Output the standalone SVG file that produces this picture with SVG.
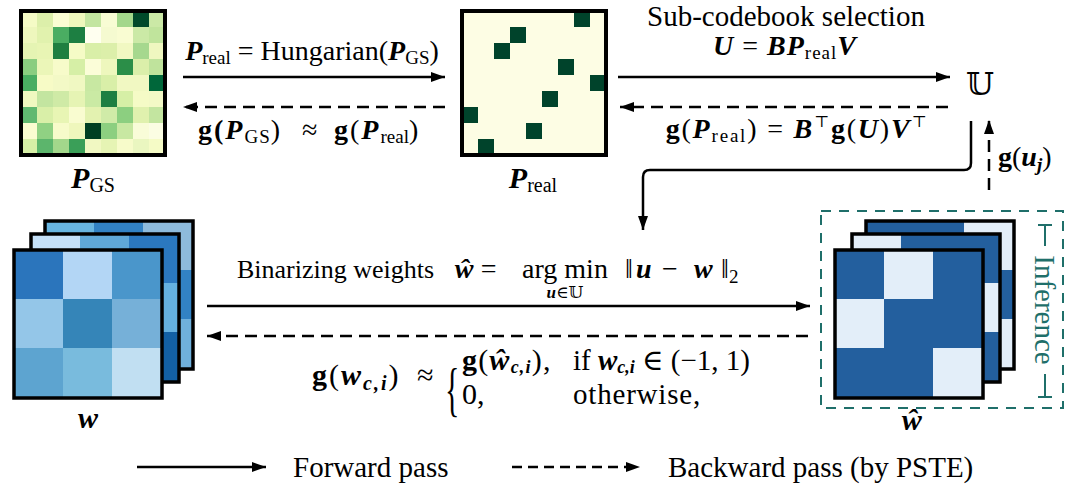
<svg xmlns="http://www.w3.org/2000/svg" width="1066" height="489" viewBox="0 0 1066 489">
<defs>
<marker id="ah" viewBox="0 0 14 10" refX="14" refY="5" markerWidth="14" markerHeight="10" markerUnits="userSpaceOnUse" orient="auto"><path d="M0,0 L14,5 L0,10 z" fill="#000"/></marker>
</defs>
<style>
text{font-family:"Liberation Serif","DejaVu Serif","Noto Serif","Times New Roman",serif;fill:#000}
.bi{font-weight:bold;font-style:italic}
.b{font-weight:bold}
.bb{font-family:"DejaVu Serif","DejaVu Sans",serif;font-weight:normal;font-style:normal}
.sym{font-family:"DejaVu Serif","DejaVu Sans",sans-serif;font-weight:normal;font-style:normal}
.frame{fill:none;stroke:#000;stroke-width:4}
.fr3{fill:none;stroke:#000;stroke-width:3.5}
.solid{fill:none;stroke:#000;stroke-width:2.5}
.dash{fill:none;stroke:#000;stroke-width:2.5;stroke-dasharray:12 7}
.inf{fill:none;stroke:#1f6f6a;stroke-width:2;stroke-dasharray:10 8}
.teal{stroke:#1f6f6a;stroke-width:2}
.D{fill:#235f9e}.L{fill:#e3eef9}
</style>

<g id="node-PGS">
<g transform="translate(21,11)">
<rect x="0" y="0" width="16.5" height="16.5" fill="#f5fbc6"/><rect x="16" y="0" width="16.5" height="16.5" fill="#dcefaa"/><rect x="32" y="0" width="16.5" height="16.5" fill="#fbfdd3"/><rect x="48" y="0" width="16.5" height="16.5" fill="#eef7bc"/><rect x="64" y="0" width="16.5" height="16.5" fill="#c3e5a0"/><rect x="80" y="0" width="16.5" height="16.5" fill="#f8fcd4"/><rect x="96" y="0" width="16.5" height="16.5" fill="#a3d78b"/><rect x="112" y="0" width="16.5" height="16.5" fill="#00492a"/><rect x="128" y="0" width="16" height="16.5" fill="#cbe9a6"/>
<rect x="0" y="16" width="16.5" height="16.5" fill="#eef7bd"/><rect x="16" y="16" width="16.5" height="16.5" fill="#e1f2ae"/><rect x="32" y="16" width="16.5" height="16.5" fill="#4aad62"/><rect x="48" y="16" width="16.5" height="16.5" fill="#1d7f42"/><rect x="64" y="16" width="16.5" height="16.5" fill="#fffff0"/><rect x="80" y="16" width="16.5" height="16.5" fill="#f5fad0"/><rect x="96" y="16" width="16.5" height="16.5" fill="#f9fcd2"/><rect x="112" y="16" width="16.5" height="16.5" fill="#cbe9a6"/><rect x="128" y="16" width="16" height="16.5" fill="#c0e49c"/>
<rect x="0" y="32" width="16.5" height="16.5" fill="#e5f4b3"/><rect x="16" y="32" width="16.5" height="16.5" fill="#e8f5b4"/><rect x="32" y="32" width="16.5" height="16.5" fill="#1f7f40"/><rect x="48" y="32" width="16.5" height="16.5" fill="#f5fbc6"/><rect x="64" y="32" width="16.5" height="16.5" fill="#d9efa8"/><rect x="80" y="32" width="16.5" height="16.5" fill="#dcefaa"/><rect x="96" y="32" width="16.5" height="16.5" fill="#f1f8c2"/><rect x="112" y="32" width="16.5" height="16.5" fill="#a6d88e"/><rect x="128" y="32" width="16" height="16.5" fill="#eff7c0"/>
<rect x="0" y="48" width="16.5" height="16.5" fill="#8acd80"/><rect x="16" y="48" width="16.5" height="16.5" fill="#ebf6b8"/><rect x="32" y="48" width="16.5" height="16.5" fill="#f7fbca"/><rect x="48" y="48" width="16.5" height="16.5" fill="#d6efa6"/><rect x="64" y="48" width="16.5" height="16.5" fill="#fbfdd8"/><rect x="80" y="48" width="16.5" height="16.5" fill="#eef7bd"/><rect x="96" y="48" width="16.5" height="16.5" fill="#2b8e48"/><rect x="112" y="48" width="16.5" height="16.5" fill="#dbefaa"/><rect x="128" y="48" width="16" height="16.5" fill="#bfe39c"/>
<rect x="0" y="64" width="16.5" height="16.5" fill="#4aad62"/><rect x="16" y="64" width="16.5" height="16.5" fill="#f7fbc6"/><rect x="32" y="64" width="16.5" height="16.5" fill="#f3f9c6"/><rect x="48" y="64" width="16.5" height="16.5" fill="#f0f8c2"/><rect x="64" y="64" width="16.5" height="16.5" fill="#c8e8a2"/><rect x="80" y="64" width="16.5" height="16.5" fill="#d9efa8"/><rect x="96" y="64" width="16.5" height="16.5" fill="#f1f8c2"/><rect x="112" y="64" width="16.5" height="16.5" fill="#f1f8c2"/><rect x="128" y="64" width="16" height="16.5" fill="#00673a"/>
<rect x="0" y="80" width="16.5" height="16.5" fill="#f0f8c0"/><rect x="16" y="80" width="16.5" height="16.5" fill="#c3e5a0"/><rect x="32" y="80" width="16.5" height="16.5" fill="#cfeaa6"/><rect x="48" y="80" width="16.5" height="16.5" fill="#e6f4b4"/><rect x="64" y="80" width="16.5" height="16.5" fill="#caeaa4"/><rect x="80" y="80" width="16.5" height="16.5" fill="#1d7f42"/><rect x="96" y="80" width="16.5" height="16.5" fill="#d6efa6"/><rect x="112" y="80" width="16.5" height="16.5" fill="#f5fbc6"/><rect x="128" y="80" width="16" height="16.5" fill="#f3f9c6"/>
<rect x="0" y="96" width="16.5" height="16.5" fill="#60b870"/><rect x="16" y="96" width="16.5" height="16.5" fill="#d9efa8"/><rect x="32" y="96" width="16.5" height="16.5" fill="#e8f5b4"/><rect x="48" y="96" width="16.5" height="16.5" fill="#f9fcd0"/><rect x="64" y="96" width="16.5" height="16.5" fill="#e3f2b0"/><rect x="80" y="96" width="16.5" height="16.5" fill="#d0eba8"/><rect x="96" y="96" width="16.5" height="16.5" fill="#8ccf80"/><rect x="112" y="96" width="16.5" height="16.5" fill="#e0f1ae"/><rect x="128" y="96" width="16" height="16.5" fill="#c3e5a0"/>
<rect x="0" y="112" width="16.5" height="16.5" fill="#fafcd0"/><rect x="16" y="112" width="16.5" height="16.5" fill="#90d183"/><rect x="32" y="112" width="16.5" height="16.5" fill="#f7fbca"/><rect x="48" y="112" width="16.5" height="16.5" fill="#eff7bc"/><rect x="64" y="112" width="16.5" height="16.5" fill="#003f22"/><rect x="80" y="112" width="16.5" height="16.5" fill="#8ccf80"/><rect x="96" y="112" width="16.5" height="16.5" fill="#c8e8a2"/><rect x="112" y="112" width="16.5" height="16.5" fill="#f9fcd8"/><rect x="128" y="112" width="16" height="16.5" fill="#fbfde3"/>
<rect x="0" y="128" width="16.5" height="16" fill="#d6efa6"/><rect x="16" y="128" width="16.5" height="16" fill="#5cb56c"/><rect x="32" y="128" width="16.5" height="16" fill="#a3d78b"/><rect x="48" y="128" width="16.5" height="16" fill="#3a9f58"/><rect x="64" y="128" width="16.5" height="16" fill="#f1f8c2"/><rect x="80" y="128" width="16.5" height="16" fill="#e6f4b4"/><rect x="96" y="128" width="16.5" height="16" fill="#f7fbca"/><rect x="112" y="128" width="16.5" height="16" fill="#eaf6c0"/><rect x="128" y="128" width="16" height="16" fill="#f5fbc6"/>
<rect class="frame" x="0" y="0" width="144" height="144"/>
</g>
<text x="93" y="188" text-anchor="middle" font-size="30"><tspan class="bi">P</tspan><tspan font-size="20" dy="4">GS</tspan></text>
</g>

<g id="node-Preal">
<g transform="translate(462,11)">
<rect x="0" y="0" width="144" height="144" fill="#fdfde4"/>
<g fill="#00432b">
<rect x="112" y="0" width="16" height="16"/><rect x="48" y="16" width="16" height="16"/><rect x="32" y="32" width="16" height="16"/><rect x="96" y="48" width="16" height="16"/><rect x="128" y="64" width="16" height="16"/><rect x="80" y="80" width="16" height="16"/><rect x="0" y="96" width="16" height="16"/><rect x="64" y="112" width="16" height="16"/><rect x="16" y="128" width="16" height="16"/>
</g>
<rect class="frame" x="0" y="0" width="144" height="144"/>
</g>
<text x="533" y="188" text-anchor="middle" font-size="30"><tspan class="bi">P</tspan><tspan font-size="20" dy="4">real</tspan></text>
</g>

<g id="node-U">
<text class="bb" x="966" y="95" font-size="32">𝕌</text>
</g>

<g id="node-w">
<g transform="translate(45,221)">
<rect x="0" y="0" width="50" height="50" fill="#68b5e0"/><rect x="49" y="0" width="50" height="50" fill="#3282c4"/><rect x="98" y="0" width="50" height="50" fill="#8ebbdc"/>
<rect x="0" y="49" width="50" height="50" fill="#4a96cb"/><rect x="49" y="49" width="50" height="50" fill="#9ecae1"/><rect x="98" y="49" width="50" height="50" fill="#3282c4"/>
<rect x="0" y="98" width="50" height="50" fill="#2171b5"/><rect x="49" y="98" width="50" height="50" fill="#6baed6"/><rect x="98" y="98" width="50" height="50" fill="#6fb0dc"/>
<rect class="fr3" x="0" y="0" width="148" height="148"/>
</g>
<g transform="translate(31,234)">
<rect x="0" y="0" width="50" height="50" fill="#c4e0f8"/><rect x="49" y="0" width="50" height="50" fill="#5fa8d8"/><rect x="98" y="0" width="50" height="50" fill="#2b78bf"/>
<rect x="0" y="49" width="50" height="50" fill="#6baed6"/><rect x="49" y="49" width="50" height="50" fill="#3182bd"/><rect x="98" y="49" width="50" height="50" fill="#65b1e0"/>
<rect x="0" y="98" width="50" height="50" fill="#9ecae1"/><rect x="49" y="98" width="50" height="50" fill="#4292c6"/><rect x="98" y="98" width="50" height="50" fill="#1360a4"/>
<rect class="fr3" x="0" y="0" width="148" height="148"/>
</g>
<g transform="translate(14,250)">
<rect x="0" y="0" width="50" height="50" fill="#2b75bc"/><rect x="49" y="0" width="50" height="50" fill="#b3d6f5"/><rect x="98" y="0" width="50" height="50" fill="#4a96cb"/>
<rect x="0" y="49" width="50" height="50" fill="#94c6e8"/><rect x="49" y="49" width="50" height="50" fill="#3585b8"/><rect x="98" y="49" width="50" height="50" fill="#76b0d8"/>
<rect x="0" y="98" width="50" height="50" fill="#5da4d0"/><rect x="49" y="98" width="50" height="50" fill="#79bbdd"/><rect x="98" y="98" width="50" height="50" fill="#c1dff2"/>
<rect class="fr3" x="0" y="0" width="148" height="148"/>
</g>
<text class="bi" x="88" y="428" text-anchor="middle" font-size="30">w</text>
</g>

<g id="node-what">
<rect class="inf" x="821" y="211" width="242" height="197"/>
<g transform="translate(866,221)">
<rect class="D" x="0" y="0" width="50" height="50"/><rect class="D" x="49" y="0" width="50" height="50"/><rect class="L" x="98" y="0" width="50" height="50"/>
<rect class="L" x="0" y="49" width="50" height="50"/><rect class="D" x="49" y="49" width="50" height="50"/><rect class="D" x="98" y="49" width="50" height="50"/>
<rect class="D" x="0" y="98" width="50" height="50"/><rect class="L" x="49" y="98" width="50" height="50"/><rect class="L" x="98" y="98" width="50" height="50"/>
<rect class="fr3" x="0" y="0" width="148" height="148"/>
</g>
<g transform="translate(852,234)">
<rect class="L" x="0" y="0" width="50" height="50"/><rect class="D" x="49" y="0" width="50" height="50"/><rect class="D" x="98" y="0" width="50" height="50"/>
<rect class="D" x="0" y="49" width="50" height="50"/><rect class="D" x="49" y="49" width="50" height="50"/><rect class="L" x="98" y="49" width="50" height="50"/>
<rect class="L" x="0" y="98" width="50" height="50"/><rect class="D" x="49" y="98" width="50" height="50"/><rect class="D" x="98" y="98" width="50" height="50"/>
<rect class="fr3" x="0" y="0" width="148" height="148"/>
</g>
<g transform="translate(835,250)">
<rect class="D" x="0" y="0" width="50" height="50"/><rect class="L" x="49" y="0" width="50" height="50"/><rect class="D" x="98" y="0" width="50" height="50"/>
<rect class="L" x="0" y="49" width="50" height="50"/><rect class="D" x="49" y="49" width="50" height="50"/><rect class="D" x="98" y="49" width="50" height="50"/>
<rect class="D" x="0" y="98" width="50" height="50"/><rect class="D" x="49" y="98" width="50" height="50"/><rect class="L" x="98" y="98" width="50" height="50"/>
<rect class="fr3" x="0" y="0" width="148" height="148"/>
</g>
<text class="bi" x="912" y="430" text-anchor="middle" font-size="30">ŵ</text>
<line class="teal" x1="1038" y1="225" x2="1052" y2="225"/>
<line class="teal" x1="1045" y1="225" x2="1045" y2="246"/>
<line class="teal" x1="1045" y1="374" x2="1045" y2="397"/>
<line class="teal" x1="1038" y1="397" x2="1052" y2="397"/>
<text transform="translate(1045,310) rotate(90)" text-anchor="middle" dy="0.33em" font-size="29" style="fill:#1f6f6a">Inference</text>
</g>

<g id="connectors">
<line class="solid" x1="183" y1="77" x2="445" y2="77" marker-end="url(#ah)"/>
<line class="dash" x1="445" y1="107" x2="183" y2="107" marker-end="url(#ah)"/>
<line class="solid" x1="618" y1="77" x2="950" y2="77" marker-end="url(#ah)"/>
<line class="dash" x1="948" y1="107" x2="620" y2="107" marker-end="url(#ah)"/>
<path class="solid" d="M971,121 V163 Q971,170 964,170 H650 Q643,170 643,177 V230" marker-end="url(#ah)"/>
<path class="dash" d="M989,190 V120" marker-end="url(#ah)"/>
<line class="solid" x1="207" y1="306" x2="810" y2="306" marker-end="url(#ah)"/>
<line class="dash" x1="808" y1="336" x2="207" y2="336" marker-end="url(#ah)"/>
</g>

<g id="labels">
<text x="312" y="60" text-anchor="middle" font-size="28"><tspan class="bi">P</tspan><tspan font-size="19" dy="4">real</tspan><tspan dy="-4"> = Hungarian(</tspan><tspan class="bi">P</tspan><tspan font-size="19" dy="4">GS</tspan><tspan dy="-4">)</tspan></text>
<text x="198" y="139" font-size="28"><tspan class="b" letter-spacing="2">g(</tspan><tspan class="bi" letter-spacing="2">P</tspan><tspan font-size="19" dy="4" letter-spacing="1">GS</tspan><tspan dy="-4">)</tspan></text>
<text x="302" y="139" font-size="28">≈</text>
<text x="334" y="139" font-size="28"><tspan class="b" letter-spacing="2">g</tspan><tspan letter-spacing="2">(</tspan><tspan class="bi" letter-spacing="2">P</tspan><tspan font-size="19" dy="4">real</tspan><tspan dy="-4">)</tspan></text>
<text x="786" y="26" text-anchor="middle" font-size="29">Sub-codebook selection</text>
<text x="785" y="55" text-anchor="middle" font-size="28" letter-spacing="1"><tspan class="bi">U</tspan> = <tspan class="bi">BP</tspan><tspan font-size="19" dy="4">real</tspan><tspan class="bi" dy="-4">V</tspan></text>
<text x="797" y="138" text-anchor="middle" font-size="28" letter-spacing="1.8"><tspan class="b">g</tspan>(<tspan class="bi">P</tspan><tspan font-size="19" dy="4">real</tspan><tspan dy="-4">) = </tspan><tspan class="bi">B</tspan><tspan class="sym" font-size="16" dy="-11">⊤</tspan><tspan class="b" dy="11">g</tspan>(<tspan class="bi">U</tspan>)<tspan class="bi">V</tspan><tspan class="sym" font-size="16" dy="-11">⊤</tspan></text>
<text x="998" y="166" font-size="28"><tspan class="b">g</tspan>(<tspan class="bi">u</tspan><tspan class="bi" font-size="19" dy="5">j</tspan><tspan dy="-5">)</tspan></text>
<text x="237" y="278" font-size="26">Binarizing weights</text>
<text x="455" y="278" font-size="28"><tspan class="bi">ŵ</tspan> =</text>
<text x="565" y="278" text-anchor="middle" font-size="28">arg min</text>
<text x="565" y="298" text-anchor="middle" font-size="17"><tspan class="bi">u</tspan>∈<tspan class="bb">𝕌</tspan></text>
<text x="625" y="278" font-size="28">‖</text>
<text class="bi" x="636" y="278" font-size="28">u</text>
<text x="662" y="278" font-size="28">−</text>
<text class="bi" x="694" y="278" font-size="28">w</text>
<text x="721" y="278" font-size="28">‖<tspan font-size="19" dy="5">2</tspan></text>
<text x="312" y="385" font-size="30" letter-spacing="2"><tspan class="b">g</tspan>(<tspan class="bi">w</tspan><tspan class="bi" font-size="20" dy="5">c,i</tspan><tspan dy="-5">)</tspan></text>
<text x="417" y="385" font-size="30">≈</text>
<text transform="translate(445,409) scale(0.5,1)" font-size="60">{</text>
<text x="462" y="370" font-size="30" letter-spacing="1.2"><tspan class="b">g</tspan>(<tspan class="bi">ŵ</tspan><tspan class="bi" font-size="18" dy="3">c,i</tspan><tspan dy="-3">),</tspan></text>
<text x="573" y="370" font-size="29">if <tspan class="bi">w</tspan><tspan class="bi" font-size="18" dy="3">c,i</tspan><tspan dy="-3"> ∈ (−1, 1)</tspan></text>
<text x="462" y="404" font-size="30">0,</text>
<text x="573" y="404" font-size="29" letter-spacing="0.8">otherwise,</text>
</g>

<g id="legend">
<line class="solid" x1="137" y1="467" x2="266" y2="467" marker-end="url(#ah)"/>
<text x="293" y="477" font-size="29">Forward pass</text>
<line class="dash" x1="512" y1="467" x2="640" y2="467" style="stroke-dasharray:10 6" marker-end="url(#ah)"/>
<text x="668" y="477" font-size="29">Backward pass (by PSTE)</text>
</g>
</svg>
